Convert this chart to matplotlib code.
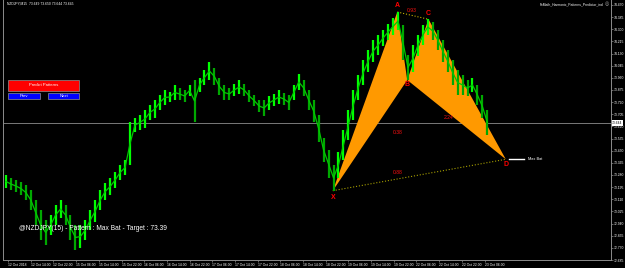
import numpy as np
import matplotlib.pyplot as plt
from matplotlib.patches import Rectangle, Polygon

plt.rcParams['font.family'] = ['Liberation Sans', 'DejaVu Sans']

# NZDJPY M15 bars, one sample every 7 bars (high / low)
bar_high = [73.280, 73.259, 73.245, 73.231, 73.210, 73.175, 73.105, 73.035, 72.965, 73.000,
            73.070, 73.105, 73.070, 73.000, 72.930, 72.930, 72.965, 73.035, 73.105, 73.175,
            73.224, 73.259, 73.301, 73.350, 73.385, 73.651, 73.679, 73.700, 73.735, 73.770,
            73.805, 73.840, 73.875, 73.861, 73.910, 73.889, 73.875, 73.910, 73.945, 73.959,
            74.015, 74.071, 74.029, 73.959, 73.910, 73.889, 73.917, 73.945, 73.917, 73.875,
            73.840, 73.805, 73.805, 73.833, 73.847, 73.875, 73.854, 73.840, 73.910, 73.987,
            73.945, 73.875, 73.805, 73.700, 73.539, 73.455, 73.350, 73.441, 73.595, 73.735,
            73.875, 73.980, 74.085, 74.155, 74.225, 74.260, 74.295, 74.337, 74.379, 74.421,
            74.330, 74.120, 74.190, 74.260, 74.330, 74.372, 74.351, 74.295, 74.225, 74.155,
            74.085, 74.015, 73.980, 73.945, 73.959, 73.910, 73.840, 73.735]
bar_low = [73.189, 73.175, 73.161, 73.140, 73.105, 73.035, 72.930, 72.825, 72.790, 72.860,
           72.930, 72.979, 72.930, 72.825, 72.755, 72.769, 72.825, 72.895, 72.951, 73.035,
           73.105, 73.140, 73.189, 73.245, 73.280, 73.350, 73.581, 73.595, 73.609, 73.665,
           73.679, 73.735, 73.770, 73.791, 73.805, 73.805, 73.791, 73.833, 73.651, 73.861,
           73.910, 73.945, 73.910, 73.840, 73.805, 73.805, 73.833, 73.847, 73.833, 73.791,
           73.763, 73.721, 73.693, 73.735, 73.763, 73.777, 73.770, 73.735, 73.805, 73.875,
           73.833, 73.735, 73.651, 73.511, 73.371, 73.259, 73.170, 73.259, 73.385, 73.525,
           73.665, 73.805, 73.910, 74.001, 74.071, 74.120, 74.183, 74.225, 74.260, 74.295,
           74.085, 73.945, 74.001, 74.113, 74.190, 74.260, 74.225, 74.155, 74.071, 74.001,
           73.910, 73.840, 73.840, 73.833, 73.861, 73.770, 73.679, 73.560]
bar_x = np.arange(len(bar_high)) * 7

# harmonic pattern X A B C D (bar index, price)
pat_names = ['X', 'A', 'B', 'C', 'D']
pat_bar = [461, 552, 566, 596, 705]
pat_price = [73.170, 74.421, 73.945, 74.370, 73.390]

ratio_text = ['0.93', '0.38', '2.24', '0.88']
ratio_bar = [572, 552, 624, 552]
ratio_price = [74.432, 73.574, 73.679, 73.294]

price_ticks = [74.470, 74.385, 74.300, 74.215, 74.130, 74.045, 73.960, 73.875, 73.790, 73.705,
               73.620, 73.535, 73.450, 73.365, 73.280, 73.195, 73.110, 73.025, 72.940, 72.855,
               72.770, 72.685]
date_labels = ['12 Oct 2018', '12 Oct 14:00', '12 Oct 22:00', '15 Oct 06:00', '15 Oct 14:00',
               '15 Oct 22:00', '16 Oct 06:00', '16 Oct 14:00', '16 Oct 22:00', '17 Oct 06:00',
               '17 Oct 14:00', '17 Oct 22:00', '18 Oct 06:00', '18 Oct 14:00', '18 Oct 22:00',
               '19 Oct 06:00', '19 Oct 14:00', '19 Oct 22:00', '22 Oct 06:00', '22 Oct 14:00',
               '22 Oct 22:00', '23 Oct 06:00']
current_price = 73.644
target = 73.39

W, H = 625, 268
fig = plt.figure(figsize=(W / 100, H / 100), dpi=100, facecolor='black')
ax = fig.add_axes([3 / W, 8 / H, 608 / W, 260 / H])
ax.set_facecolor('black')
ax.set_xlim(-4.2, 853.4)
ax.set_ylim(72.685, 74.505)

# bars
mid = (np.array(bar_high) + np.array(bar_low)) / 2
up = np.r_[True, np.diff(mid) >= 0]
cols = np.where(up, '#00ff00', '#00a800')
ax.vlines(bar_x, bar_low, bar_high, colors=cols, linewidth=1.6, zorder=3)
ax.plot(bar_x, mid, color='#00c800', lw=0.9, zorder=3)

# current price line
ax.axhline(current_price, color='#8c8c8c', lw=0.6, zorder=1)

# pattern
P = list(zip(pat_bar, pat_price))
ax.add_patch(Polygon([P[0], P[1], P[2]], closed=True, facecolor='#ff9900', edgecolor='none', zorder=2))
ax.add_patch(Polygon([P[2], P[3], P[4]], closed=True, facecolor='#ff9900', edgecolor='none', zorder=2))
ax.plot([P[1][0], P[3][0]], [P[1][1], P[3][1]], ls=':', color='#c8b400', lw=0.8, zorder=2)
ax.plot([P[0][0], P[4][0]], [P[0][1], P[4][1]], ls=':', color='#a8a000', lw=0.8, zorder=2)

offs = [-0.045, 0.045, -0.035, 0.04, -0.035]
for n, b, p, o in zip(pat_names, pat_bar, pat_price, offs):
    ax.text(b, p + o, n, color='#ff0000', fontsize=5, fontweight='bold',
            ha='center', va='center', zorder=5)
for t, b, p in zip(ratio_text, ratio_bar, ratio_price):
    ax.text(b, p, t, color='#ff1010', fontsize=3.6, ha='center', va='center', zorder=5)

ax.plot([710, 730], [target, target], color='white', lw=1, zorder=4)
ax.text(736, target, 'Max Bat', color='white', fontsize=2.8, va='center', zorder=5)

# axes style
ax.spines['top'].set_visible(False)
for s in ['left', 'right', 'bottom']:
    ax.spines[s].set_color('#8c8c8c')
    ax.spines[s].set_linewidth(0.7)
ax.yaxis.tick_right()
ax.set_yticks(price_ticks)
ax.set_yticklabels(['%.3f' % v for v in price_ticks])
ax.set_xticks([3 + 32 * k for k in range(len(date_labels))])
ax.set_xticklabels(date_labels, ha='left')
ax.tick_params(axis='both', colors='#8c8c8c', labelcolor='white', labelsize=2.4,
               length=1.5, width=0.5, pad=0.6)
ax.text(1.002, current_price, '%.3f' % current_price, transform=ax.get_yaxis_transform(),
        fontsize=2.4, color='black', va='center', ha='left',
        bbox=dict(facecolor='white', edgecolor='none', pad=0.5), zorder=6, clip_on=False)


def fx(x):
    return x / W


def fy(y):
    return 1 - y / H


# header texts
fig.text(fx(7), fy(4), 'NZDJPY,M15  73.649 73.650 73.644 73.645', color='white',
         fontsize=2.4, va='center')
fig.text(fx(603), fy(4), 'FxMath_Harmonic_Patterns_Predictor_ind', color='white',
         fontsize=2.4, va='center', ha='right')
fig.text(fx(607), fy(4), '\u25ce', color='#b0b0b0', fontsize=3.5, va='center', ha='center',
         family='DejaVu Sans')

# buttons
buttons = [('Predict Patterns', 8, 80, 71, 10.5, '#ff0000'),
           ('Prev', 8, 92.7, 32, 6.6, '#0000ff'),
           ('Next', 47.7, 92.7, 31.6, 6.6, '#0000ff')]
for label, bx, by, bw, bh, c in buttons:
    fig.add_artist(Rectangle((fx(bx), fy(by + bh)), bw / W, bh / H, transform=fig.transFigure,
                             facecolor=c, edgecolor='#909090', lw=0.5))
    fig.text(fx(bx + bw / 2), fy(by + bh / 2), label, color='white', fontsize=3,
             ha='center', va='center')

fig.text(fx(19), fy(229), '@NZDJPY(15) - Pattern : Max Bat - Target : 73.39', color='white',
         fontsize=4.8, va='center')

fig.savefig('out.png', dpi=100, facecolor='black')
